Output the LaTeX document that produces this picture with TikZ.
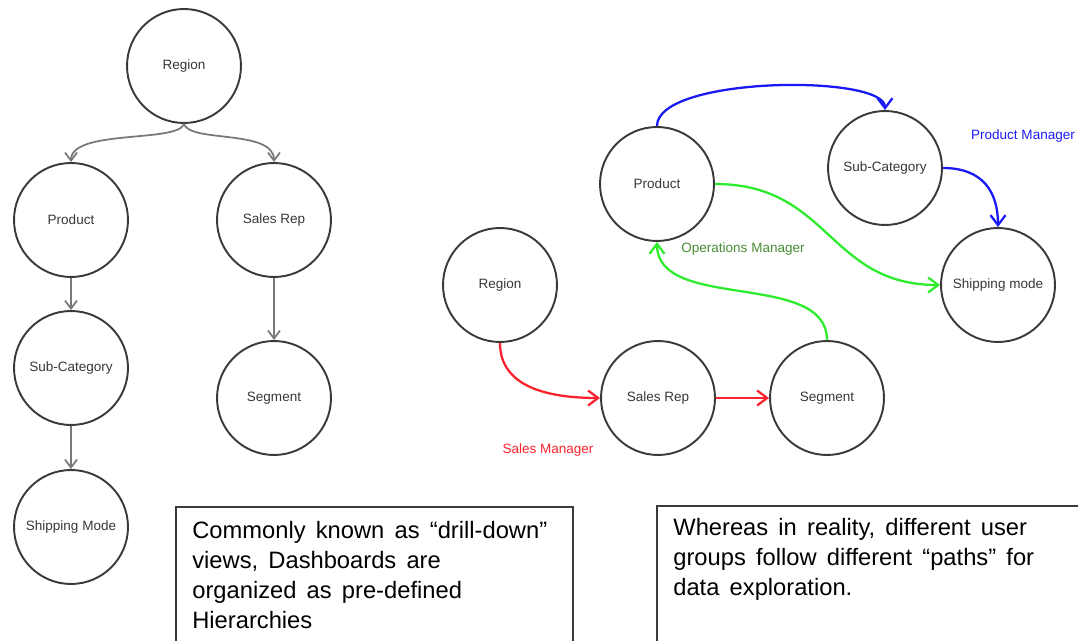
\documentclass[tikz,border=0pt]{standalone}
\usepackage{fontspec}
\setmainfont{Liberation Sans}
\newfontfamily\notefont{Liberation Sans}[WordSpace=1.55]
\usetikzlibrary{arrows.meta}
\definecolor{ringgray}{RGB}{58,58,58}
\definecolor{labelgray}{RGB}{55,55,55}
\definecolor{treegray}{RGB}{120,120,120}
\definecolor{pathblue}{RGB}{25,25,245}
\definecolor{pathgreen}{RGB}{45,235,45}
\definecolor{pathred}{RGB}{250,35,45}
\definecolor{opsgreen}{RGB}{70,140,50}
\begin{document}
\begin{tikzpicture}[x=0.02cm, y=-0.02cm,
    dim/.style={circle, draw=ringgray, line width=1.1pt, minimum size=2.28cm,
        inner sep=0pt, text=labelgray, font=\fontsize{7.7}{9}\selectfont},
    treearrow/.style={draw=treegray, line width=1pt,
        -{Straight Barb[length=1.6mm, width=2.4mm]}},
    patharrow/.style={line width=1.3pt,
        -{Straight Barb[length=2mm, width=3mm]}},
    role/.style={font=\fontsize{7.7}{9}\selectfont},
    notebox/.style={draw=ringgray, line width=1.1pt, minimum width=7.94cm,
        minimum height=3.2cm, anchor=north west},
    notetext/.style={anchor=north west, inner sep=0pt, align=left,
        font=\notefont\fontsize{13.5}{17}\selectfont}]
    \useasboundingbox (0,0) rectangle (1078,641);
    % Drill-down hierarchy
    \foreach \name/\x/\y/\txt in {regL/184/66/Region, prodL/71/220/Product,
                    repL/274/220/Sales Rep, subL/71/368/Sub-Category,
                    segL/274/398/Segment, shipL/71/527/Shipping Mode}{
        \node[dim] (\name) at (\x,\y) {\txt};
    }
    \draw[treearrow] (regL.south) .. controls +(-6,19) and +(0,-33) .. (prodL.north);
    \draw[treearrow] (regL.south) .. controls +(6,19) and +(0,-33) .. (repL.north);
    \foreach \a/\b in {prodL/subL, subL/shipL, repL/segL}{
        \draw[treearrow] (\a) -- (\b);
    }
    % User paths
    \foreach \name/\x/\y/\txt in {prodR/657/184/Product, subR/885/168/Sub-Category,
                    shipR/998/285/Shipping mode, regR/500/285/Region,
                    repR/658/398/Sales Rep, segR/827/398/Segment}{
        \node[dim] (\name) at (\x,\y) {\txt};
    }
    % Product Manager
    \draw[patharrow, pathblue] (prodR.north) .. controls +(0,-50) and +(0,-36) .. (subR.north);
    \draw[patharrow, pathblue] (subR.east) .. controls +(40,0) and +(0,-35) .. (shipR.north);
    \node[role, text=pathblue] (pmlabel) at (1023,136) {Product Manager};
    % Operations Manager
    \draw[patharrow, pathgreen] (prodR.east) .. controls +(115,0) and +(-112,0) .. (shipR.west);
    \draw[patharrow, pathgreen] (segR.north) .. controls +(0,-70) and +(0,70) .. (prodR.south);
    \node[role, text=opsgreen] (omlabel) at (743,249) {Operations Manager};
    % Sales Manager
    \draw[patharrow, pathred] (regR.south) .. controls +(0,45) and +(-50,0) .. (repR.west);
    \draw[patharrow, pathred] (repR) -- (segR);
    \node[role, text=pathred] (smlabel) at (548,450) {Sales Manager};
    % Notes
    \node[notebox] (leftbox) at (175,506) {};
    \node[notetext] (lefttext) at ([shift={(17,15)}]leftbox.north west)
        {Commonly known as “drill-down”\\views, Dashboards are\\organized as pre-defined\\Hierarchies};
    \node[notebox, draw=none, minimum width=8.4cm] (rightbox) at (657,506) {};
    \draw[ringgray, line width=1.1pt] (rightbox.south west) -- (rightbox.north west) -- (rightbox.north east);
    \draw[black!15, line width=0.6pt] (rightbox.north east) -- (rightbox.south east);
    \node[notetext] (righttext) at ([shift={(16,12)}]rightbox.north west)
        {Whereas in reality, different user\\groups follow different “paths” for\\data exploration.};
\end{tikzpicture}
\end{document}
